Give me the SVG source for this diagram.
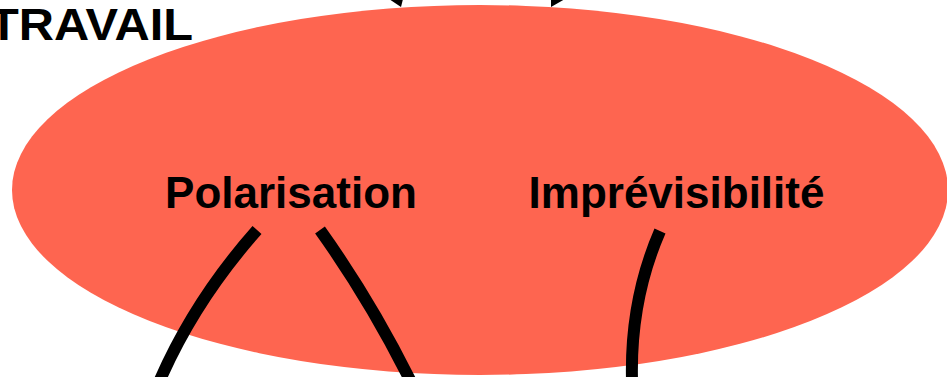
<svg xmlns="http://www.w3.org/2000/svg" width="947" height="377" viewBox="0 0 947 377">
<style>
.lbl{font-family:"Liberation Sans",Arial,sans-serif;font-weight:bold;font-size:44px;fill:#000}
.conn{fill:none;stroke:#000;stroke-width:12}
</style>
<rect width="947" height="377" fill="#fff"/>
<g id="travail"><text class="lbl" x="-11" y="40" font-size="45" textLength="204" lengthAdjust="spacingAndGlyphs">TRAVAIL</text></g>
<g id="ellipse"><ellipse cx="480" cy="190" rx="468" ry="185" fill="#FE6550"/></g>
<g id="polarisation"><text class="lbl" x="291" y="208" text-anchor="middle">Polarisation</text></g>
<g id="imprevisibilite"><text class="lbl" x="676.5" y="208" text-anchor="middle">Imprévisibilité</text></g>
<g id="connectors">
<path class="conn" d="M257,230 Q195,300 160,380"/>
<path class="conn" d="M320,230 Q370,300 410,380"/>
<path class="conn" d="M660,231 Q630,300 632,380"/>
<polygon points="389,-1 403,-1 401,7" fill="#000"/>
<polygon points="551,-1 565,-1 551,7" fill="#000"/>
</g>
</svg>
